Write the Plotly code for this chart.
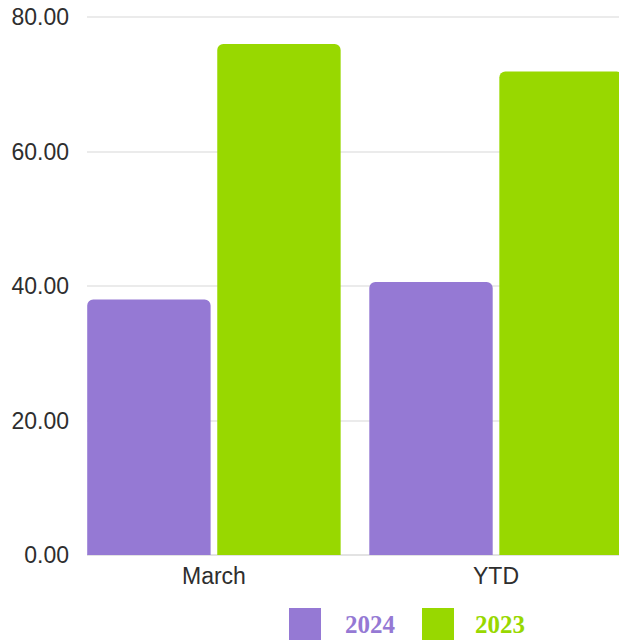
import plotly.graph_objects as go

categories = ["March", "YTD"]
series_names = ["2024", "2023"]
values_2024 = [38.0, 40.6]
values_2023 = [76.0, 71.9]
series_colors = ["#9579D4", "#98D800"]
y_ticks = [0, 20, 40, 60, 80]

W, H = 619, 644
ML, MR, MT, MB = 87, 0, 16, 644 - 555
pw, ph = W - ML - MR, H - MT - MB

def px_x(px):
    return (px - ML) / pw

def px_y(py):
    return (H - MB - py) / ph

fig = go.Figure()
for name, vals, col in zip(series_names, [values_2024, values_2023], series_colors):
    fig.add_trace(go.Bar(x=categories, y=vals, name=name, marker=dict(color=col, line=dict(width=0)),
                         showlegend=False))

fig.update_layout(
    width=W, height=H,
    margin=dict(l=ML, r=MR, t=MT, b=MB),
    paper_bgcolor="white", plot_bgcolor="white",
    barmode="group", bargap=0.078, bargroupgap=0.051,
    barcornerradius=6,
    font=dict(family="Liberation Sans, Arial, sans-serif", size=23, color="#2e2e2e"),
    xaxis=dict(range=[-0.45, 1.436], showgrid=False, showline=False, zeroline=False,
               ticks="", ticklabelstandoff=5, tickfont=dict(size=23, color="#2e2e2e")),
    yaxis=dict(range=[0, 80.15], tickvals=y_ticks, tickformat=".2f", showgrid=True,
               gridcolor="#ebebeb", gridwidth=2, zeroline=True, zerolinecolor="#e3e3e3",
               zerolinewidth=2, showline=False, ticks="", ticklabelstandoff=17,
               tickfont=dict(size=23, color="#2e2e2e")),
)

# custom legend (large swatches, coloured serif labels)
sq_left = [289, 422]
txt_left = [343, 473]
for name, col, sx, tx in zip(series_names, series_colors, sq_left, txt_left):
    fig.add_shape(type="rect", xref="paper", yref="paper",
                  x0=px_x(sx), x1=px_x(sx + 32), y0=px_y(640), y1=px_y(608),
                  fillcolor=col, line=dict(width=0))
    fig.add_annotation(xref="paper", yref="paper", x=px_x(tx), y=px_y(624),
                       xanchor="left", yanchor="middle", showarrow=False,
                       text="<b>" + name + "</b>",
                       font=dict(family="Liberation Serif, Times New Roman, serif", size=25, color=col))

fig.write_html(
    "out.html",
    config={"displayModeBar": False},
    post_script="document.body.style.margin='0';document.body.style.overflow='hidden';",
)
